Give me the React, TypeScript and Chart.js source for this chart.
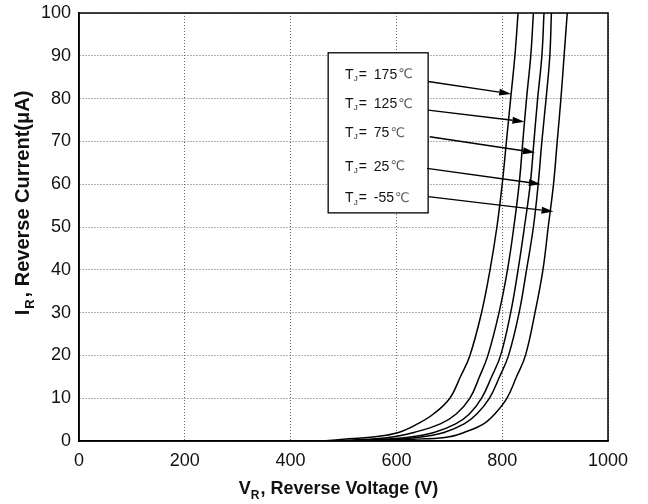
import React, { useEffect, useRef } from "react";
import { Chart, registerables } from "chart.js";

Chart.register(...registerables);

const currents = [0, 0.5, 1, 2, 4, 6.3, 10, 15, 20, 30, 40, 50, 60, 70, 80, 90, 100];
const v175 = [460, 510, 560, 604, 640, 670, 701, 721, 739, 761, 777, 790, 800, 808, 816, 824, 830];
const v125 = [480, 560, 595, 633, 683, 713, 739, 757, 773, 794, 810, 822, 832, 839, 846, 854, 859];
const v75 = [500, 590, 630, 671, 712, 738, 761, 780, 797, 816, 830, 842, 853, 860, 867, 875, 879];
const v25 = [510, 610, 650, 690, 728, 752, 776, 795, 812, 832, 846, 859, 868, 875, 883, 890, 893];
const vm55 = [540, 655, 700, 728, 765, 786, 809, 827, 844, 862, 877, 887, 897, 904, 911, 917, 923];

const seriesNames = ["175", "125", "75", "25", "-55"];
const seriesVolts = [v175, v125, v75, v25, vm55];

const xTicks = [0, 200, 400, 600, 800, 1000];
const yTicks = [0, 10, 20, 30, 40, 50, 60, 70, 80, 90, 100];

const labelV = 503;
const labelI = [85.5, 78.7, 71.9, 64.1, 56.7];
const arrowFromV = [660, 660, 663, 658, 660];
const arrowFromI = [84, 77.3, 71.1, 63.7, 57.1];
const arrowToV = [817, 842, 862, 873, 897];
const arrowToI = [81.1, 74.6, 67.4, 60, 53.6];
const boxV = [471, 660];
const boxI = [53.3, 90.7];

const FONT = '"Liberation Sans", Arial, sans-serif';

const overlay = {
  id: "overlay",
  afterDatasetsDraw(chart: any) {
    const ctx = chart.ctx;
    const xs = chart.scales.x;
    const ys = chart.scales.y;
    const ca = chart.chartArea;
    ctx.save();
    ctx.strokeStyle = "#000";
    ctx.lineWidth = 1.5;
    ctx.strokeRect(ca.left, ca.top, ca.right - ca.left, ca.bottom - ca.top);

    const bx0 = xs.getPixelForValue(boxV[0]);
    const bx1 = xs.getPixelForValue(boxV[1]);
    const by0 = ys.getPixelForValue(boxI[1]);
    const by1 = ys.getPixelForValue(boxI[0]);
    ctx.fillStyle = "#fff";
    ctx.fillRect(bx0, by0, bx1 - bx0, by1 - by0);
    ctx.lineWidth = 1.3;
    ctx.strokeRect(bx0, by0, bx1 - bx0, by1 - by0);

    ctx.textBaseline = "middle";
    ctx.textAlign = "left";
    for (let i = 0; i < seriesNames.length; i++) {
      let x = xs.getPixelForValue(labelV);
      const y = ys.getPixelForValue(labelI[i]);
      ctx.fillStyle = "#111";
      ctx.font = `14px ${FONT}`;
      ctx.fillText("T", x, y);
      x += ctx.measureText("T").width;
      ctx.font = `8px ${FONT}`;
      ctx.fillText("J", x, y + 4);
      x += ctx.measureText("J").width + 1;
      ctx.font = `14px ${FONT}`;
      ctx.fillText("=", x, y);
      x += ctx.measureText("=").width + 7;
      ctx.fillText(seriesNames[i], x, y);
      x += ctx.measureText(seriesNames[i]).width + 1;
      ctx.fillStyle = "#555";
      ctx.font = `13px "DejaVu Sans", sans-serif`;
      ctx.fillText("\u2103", x, y);
    }

    ctx.strokeStyle = "#000";
    ctx.fillStyle = "#000";
    ctx.lineWidth = 1.4;
    for (let i = 0; i < arrowFromV.length; i++) {
      const x0 = xs.getPixelForValue(arrowFromV[i]);
      const y0 = ys.getPixelForValue(arrowFromI[i]);
      const x1 = xs.getPixelForValue(arrowToV[i]);
      const y1 = ys.getPixelForValue(arrowToI[i]);
      const ang = Math.atan2(y1 - y0, x1 - x0);
      const L = 12;
      const W = 3.5;
      ctx.beginPath();
      ctx.moveTo(x0, y0);
      ctx.lineTo(x1 - L * Math.cos(ang), y1 - L * Math.sin(ang));
      ctx.stroke();
      ctx.beginPath();
      ctx.moveTo(x1, y1);
      ctx.lineTo(x1 - L * Math.cos(ang) - W * Math.sin(ang), y1 - L * Math.sin(ang) + W * Math.cos(ang));
      ctx.lineTo(x1 - L * Math.cos(ang) + W * Math.sin(ang), y1 - L * Math.sin(ang) - W * Math.cos(ang));
      ctx.closePath();
      ctx.fill();
    }

    ctx.fillStyle = "#111";
    ctx.textBaseline = "alphabetic";
    {
      const big = `bold 18px ${FONT}`;
      const small = `bold 12px ${FONT}`;
      ctx.font = big;
      const w1 = ctx.measureText("V").width;
      const w3 = ctx.measureText(", Reverse Voltage (V)").width;
      ctx.font = small;
      const w2 = ctx.measureText("R").width + 1;
      const total = w1 + w2 + w3;
      const cx = (ca.left + ca.right) / 2 - 5;
      let x = cx - total / 2;
      const y = 494;
      ctx.font = big;
      ctx.fillText("V", x, y);
      x += w1;
      ctx.font = small;
      ctx.fillText("R", x, y + 5);
      x += w2;
      ctx.font = big;
      ctx.fillText(", Reverse Voltage (V)", x, y);
    }
    {
      ctx.save();
      ctx.translate(29, 203);
      ctx.rotate(-Math.PI / 2);
      const big = `bold 20px ${FONT}`;
      const small = `bold 13px ${FONT}`;
      ctx.font = big;
      const w1 = ctx.measureText("I").width + 1;
      const w3 = ctx.measureText(", Reverse Current(\u03bcA)").width;
      ctx.font = small;
      const w2 = ctx.measureText("R").width + 2;
      const total = w1 + w2 + w3;
      let x = -total / 2;
      ctx.font = big;
      ctx.fillText("I", x, 0);
      x += w1;
      ctx.font = small;
      ctx.fillText("R", x, 5);
      x += w2;
      ctx.font = big;
      ctx.fillText(", Reverse Current(\u03bcA)", x, 0);
      ctx.restore();
    }
    ctx.restore();
  },
};

export default function App() {
  const ref = useRef<HTMLCanvasElement>(null);
  useEffect(() => {
    document.body.style.margin = "0";
    const datasets = seriesVolts.map((vs, k) => ({
      label: seriesNames[k],
      data: vs.map((v, i) => ({ x: v, y: currents[i] })),
      showLine: true,
      borderColor: "#000",
      borderWidth: 1.5,
      pointRadius: 0,
      tension: 0.4,
      fill: false,
    }));
    const chart = new Chart(ref.current!, {
      type: "scatter",
      data: { datasets },
      options: {
        animation: false,
        responsive: false,
        maintainAspectRatio: false,
        layout: { padding: { left: 0, top: 13, right: 40, bottom: 0 } },
        plugins: { legend: { display: false }, tooltip: { enabled: false } },
        scales: {
          x: {
            type: "linear",
            min: 0,
            max: 1000,
            afterBuildTicks: (s: any) => {
              s.ticks = xTicks.map((v) => ({ value: v }));
            },
            afterFit: (s: any) => {
              s.height = 63;
              s.paddingLeft = 0;
              s.paddingRight = 0;
            },
            grid: { color: "#666", lineWidth: 1, drawTicks: false },
            border: { display: true, color: "#000", width: 1.5, dash: [1, 2] },
            ticks: {
              padding: 9,
              color: "#111",
              font: { family: FONT, size: 18 },
              maxRotation: 0,
              callback: (v: any) => String(v),
            },
          },
          y: {
            type: "linear",
            min: 0,
            max: 100,
            afterBuildTicks: (s: any) => {
              s.ticks = yTicks.map((v) => ({ value: v }));
            },
            afterFit: (s: any) => {
              s.width = 79;
              s.paddingTop = 0;
              s.paddingBottom = 0;
            },
            grid: { color: "#666", lineWidth: 1, drawTicks: false },
            border: { display: true, color: "#000", width: 1.5, dash: [1, 2] },
            ticks: {
              padding: 8,
              color: "#111",
              font: { family: FONT, size: 18 },
              callback: (v: any) => String(v),
            },
          },
        },
      },
      plugins: [overlay],
    });
    return () => chart.destroy();
  }, []);
  return (
    <div style={{ position: "absolute", left: 0, top: 0, width: 648, height: 504, background: "#fff" }}>
      <canvas ref={ref} width={648} height={504} style={{ width: 648, height: 504 }} />
    </div>
  );
}
